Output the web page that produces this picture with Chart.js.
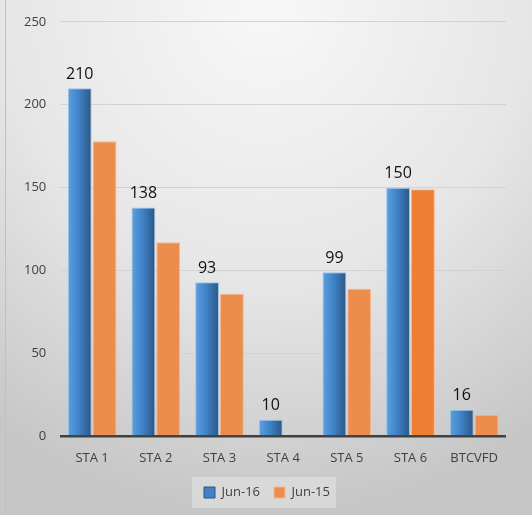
<!DOCTYPE html>
<html>
<head>
<meta charset="utf-8">
<script src="https://cdn.jsdelivr.net/npm/chart.js@4.4.1/dist/chart.umd.min.js"></script>
<style>
  html, body { margin: 0; padding: 0; }
  #wrap {
    width: 532px; height: 515px; position: relative;
    background: radial-gradient(ellipse 90% 100% at 50% 0%, #f8f8f8 0%, #e6e6e6 55%, #c6c6c6 100%);
  }
  #wrap:before {
    content: ""; position: absolute; left: 5px; top: 0; bottom: 0; width: 1px; background: #c0c0c0;
  }
</style>
</head>
<body>
<div id="wrap"><canvas id="chart" width="532" height="515"></canvas></div>
<script>
const categories = ['STA 1', 'STA 2', 'STA 3', 'STA 4', 'STA 5', 'STA 6', 'BTCVFD'];
const jun16 = [210, 138, 93, 10, 99, 150, 16];
const jun15 = [178, 117, 86, 0, 89, 149, 13];
const yTicks = [0, 50, 100, 150, 200, 250];

const orangeFill = ['#ec8c4d', '#ec8c4d', '#ec8c4d', '#ec8c4d', '#ec8c4d', '#ee7e31', '#ec8c4d'];

// horizontal shading for the blue bars, worked out from the x scale
function blueShade(c) {
  const chart = c.chart;
  const xs = chart.scales.x;
  if (!xs || c.dataIndex === undefined) return '#4a8fd4';
  const center = xs.getPixelForValue(c.dataIndex);
  const w = xs.width / categories.length * 0.75 / 2;
  const g = chart.ctx.createLinearGradient(center - w, 0, center, 0);
  g.addColorStop(0, '#5a9fe0');
  g.addColorStop(0.45, '#3f82c6');
  g.addColorStop(1, '#2a5480');
  return g;
}

const LEGEND_SHIFT = 9;

const labelPlugin = {
  id: 'labels',
  afterLayout(chart) {
    const lg = chart.legend;
    lg.left += LEGEND_SHIFT;
    lg.right += LEGEND_SHIFT;
    lg.legendHitBoxes.forEach(b => { b.left += LEGEND_SHIFT; });
  },
  beforeDraw(chart) {
    // legend background box
    const lg = chart.legend;
    if (!lg || !lg.legendHitBoxes.length) return;
    const boxes = lg.legendHitBoxes;
    const x0 = boxes[0].left - 12;
    const x1 = boxes[boxes.length - 1].left + boxes[boxes.length - 1].width + 6;
    const ctx = chart.ctx;
    ctx.save();
    ctx.fillStyle = 'rgba(230,230,230,0.55)';
    ctx.fillRect(x0, boxes[0].top - 9, x1 - x0, 31);
    ctx.restore();
  },
  afterDatasetsDraw(chart) {
    const ctx = chart.ctx;
    const meta = chart.getDatasetMeta(0);
    ctx.save();
    ctx.font = '16px "Open Sans", Lato, sans-serif';
    ctx.fillStyle = '#111';
    ctx.textAlign = 'center';
    ctx.textBaseline = 'bottom';
    meta.data.forEach((bar, i) => {
      ctx.fillText(String(jun16[i]), bar.x, bar.y - 6);
    });
    ctx.restore();
  }
};

new Chart(document.getElementById('chart'), {
  type: 'bar',
  data: {
    labels: categories,
    datasets: [
      {
        label: 'Jun-16',
        data: jun16,
        backgroundColor: blueShade,
        borderColor: '#9cc3ea',
        borderWidth: 1
      },
      {
        label: 'Jun-15',
        data: jun15,
        backgroundColor: orangeFill,
        borderColor: '#f5b88e',
        borderWidth: 1
      }
    ]
  },
  options: {
    responsive: false,
    animation: false,
    layout: { padding: { left: 10, right: 26, top: 12, bottom: 6 } },
    datasets: { bar: { categoryPercentage: 0.78, barPercentage: 0.96 } },
    scales: {
      x: {
        grid: { display: false },
        border: { display: false },
        ticks: { color: '#404040', font: { size: 13, family: '"Open Sans", Lato, sans-serif' }, padding: 6 }
      },
      y: {
        min: 0,
        max: 250,
        afterBuildTicks(axis) { axis.ticks = yTicks.map(v => ({ value: v })); },
        border: { display: false },
        grid: {
          color: c => c.tick && c.tick.value === 0 ? '#404040' : '#d2d2d2',
          lineWidth: c => c.tick && c.tick.value === 0 ? 2.5 : 1,
          drawTicks: false
        },
        ticks: { color: '#404040', font: { size: 13, family: '"Open Sans", Lato, sans-serif' }, padding: 14 }
      }
    },
    plugins: {
      tooltip: { enabled: false },
      legend: {
        position: 'bottom',
        labels: {
          boxWidth: 11,
          boxHeight: 11,
          padding: 14,
          color: '#404040',
          font: { size: 13, family: '"Open Sans", Lato, sans-serif' },
          generateLabels(chart) {
            return chart.data.datasets.map((ds, i) => ({
              text: ds.label,
              fillStyle: i === 0 ? '#3f82c6' : '#ec8c4d',
              strokeStyle: i === 0 ? '#2a5480' : '#f5b88e',
              lineWidth: 1,
              datasetIndex: i,
              fontColor: '#404040'
            }));
          }
        }
      }
    }
  },
  plugins: [labelPlugin]
});
</script>
</body>
</html>
